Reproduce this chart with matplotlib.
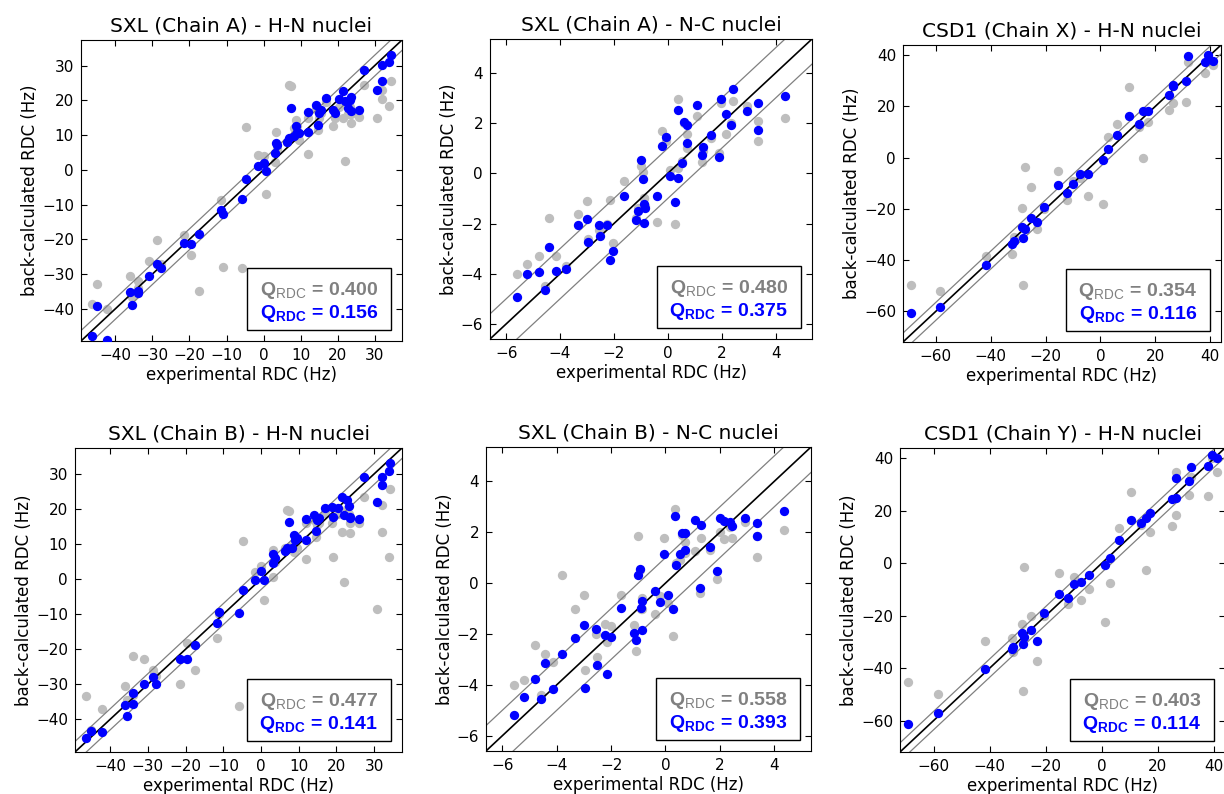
import matplotlib
matplotlib.use("Agg")
import matplotlib.pyplot as plt
from matplotlib.patches import Rectangle
from matplotlib.ticker import MultipleLocator

plt.rcParams.update({
    "font.family": "DejaVu Sans",
    "mathtext.fontset": "custom",
    "mathtext.rm": "Liberation Sans",
    "mathtext.bf": "Liberation Sans:bold",
    "mathtext.it": "Liberation Sans:italic",
})

# ---- data ----
# SXL H-N (same experimental values for chain A and chain B)
sxl_hn_exp = [-46.4, -45.0, -42.2, -36.1, -35.4, -34.0, -33.8, -31.0, -28.7, -27.7,
              -21.4, -19.7, -17.4, -11.6, -11.0, -5.7, -4.8, -1.5, 0.0, 0.7,
              3.2, 3.3, 3.6, 6.4, 7.0, 7.5, 8.3, 8.7, 9.0, 9.6,
              11.9, 12.0, 14.2, 14.6, 14.9, 15.4, 16.9, 18.8, 19.2, 20.5,
              21.5, 22.0, 22.8, 23.3, 23.6, 23.6, 25.9, 27.2, 30.7, 32.0,
              32.1, 34.0, 34.3]
sxl_a_hn_before = [-38.5, -32.9, -40.2, -30.7, -36.5, -32.0, -34.0, -26.4, -20.2, -27.0,
                   -18.9, -24.4, -34.8, -8.8, -28.1, -28.4, 12.2, 4.2, 4.1, -6.9,
                   2.3, 11.0, 6.0, 8.0, 24.5, 24.2, 12.0, 14.4, 12.6, 8.6,
                   4.5, 15.0, 17.5, 11.5, 15.0, 16.5, 19.5, 12.6, 15.0, 18.0,
                   14.9, 2.6, 16.0, 18.0, 13.6, 16.0, 15.3, 24.5, 14.9, 20.5,
                   23.0, 18.4, 25.7]
sxl_a_hn_after = [-47.9, -39.2, -49.1, -35.3, -38.9, -34.8, -35.6, -30.6, -27.1, -28.3,
                  -21.0, -21.3, -18.6, -11.7, -12.6, -8.5, -2.7, 1.2, 2.1, -0.4,
                  4.9, 7.8, 7.1, 7.9, 9.1, 17.8, 9.7, 12.5, 11.0, 10.5,
                  11.0, 16.8, 18.7, 12.9, 16.3, 17.3, 20.7, 17.3, 16.3, 20.4,
                  22.6, 19.7, 17.8, 20.2, 21.1, 17.0, 17.3, 28.9, 22.9, 30.3,
                  25.7, 31.0, 33.2]
sxl_b_hn_before = [-33.4, -43.0, -37.0, -30.6, -34.5, -33.0, -21.9, -22.7, -26.0, -27.5,
                   -29.8, -18.1, -25.8, -16.7, -10.0, -36.2, 11.0, 2.0, 3.8, -6.0,
                   0.5, 8.3, 5.0, 9.0, 19.7, 19.4, 9.5, 7.6, 10.0, 9.0,
                   5.7, 16.0, 17.0, 12.0, 15.5, 16.0, 19.0, 16.0, 6.2, 18.5,
                   13.5, -0.8, 20.0, 18.5, 13.3, 16.0, 16.0, 23.5, -8.6, 21.1,
                   13.5, 6.2, 25.6]
sxl_b_hn_after = [-45.2, -43.3, -43.6, -36.0, -39.1, -35.7, -32.4, -30.0, -27.9, -29.8,
                  -22.9, -22.9, -18.9, -12.5, -9.5, -9.6, -3.1, -0.3, 2.4, -0.3,
                  4.5, 7.1, 6.0, 8.0, 8.8, 16.2, 8.8, 12.6, 11.1, 11.8,
                  11.3, 17.1, 18.3, 13.7, 16.9, 17.5, 20.2, 20.5, 17.8, 20.2,
                  23.5, 18.3, 22.6, 20.9, 17.6, 17.5, 17.1, 29.0, 22.1, 29.0,
                  26.9, 30.9, 33.0]

# SXL N-C
sxl_nc_exp = [-5.58, -5.21, -4.80, -4.57, -4.42, -4.15, -3.79, -3.32, -3.01, -2.97,
              -2.54, -2.52, -2.24, -2.15, -2.02, -1.62, -1.17, -1.10, -1.00, -0.92,
              -0.90, -0.87, -0.85, -0.39, -0.20, -0.07, 0.08, 0.26, 0.36, 0.37,
              0.53, 0.60, 0.70, 0.71, 1.08, 1.28, 1.31, 1.62, 1.90, 1.99,
              2.15, 2.36, 2.43, 2.94, 3.36, 3.36, 4.36]
sxl_a_nc_before = [-4.02, -3.63, -3.31, -4.50, -1.77, -3.31, -3.70, -1.61, -1.12, -2.60,
                   -2.27, -2.30, -2.00, -1.05, -2.76, -0.31, -1.80, -1.40, 0.30, 0.05,
                   -1.00, -1.00, -1.30, -1.94, 1.69, 1.30, 0.12, -2.03, 2.97, 0.20,
                   0.50, 2.00, 1.58, 1.00, 2.27, 0.45, 0.90, 1.40, 0.81, 2.80,
                   1.55, 2.00, 2.87, 2.68, 2.07, 1.27, 2.22]
sxl_a_nc_after = [-4.93, -4.02, -3.93, -4.63, -2.93, -3.89, -3.80, -2.05, -1.81, -2.74,
                  -2.05, -2.50, -2.05, -3.47, -3.09, -0.90, -1.85, -1.51, 0.52, -0.24,
                  -1.98, -1.24, -1.37, -0.92, 1.08, 1.45, -0.11, -1.14, 2.54, -0.17,
                  0.41, 2.05, 1.91, 1.21, 2.74, 0.72, 1.05, 1.51, 0.65, 2.97,
                  2.38, 1.91, 3.37, 2.48, 2.80, 1.74, 3.07]
sxl_b_nc_before = [-4.02, -3.82, -2.43, -4.40, -2.80, -3.10, 0.30, -1.00, -0.48, -3.43,
                   -2.00, -2.90, -1.60, -2.30, -1.70, -0.47, -1.66, -2.66, 1.84, 0.50,
                   -1.00, -0.60, -1.00, -1.20, -0.50, 1.77, -0.80, -2.06, 2.90, 0.80,
                   0.90, 1.90, 1.60, 1.20, 1.27, -0.38, 1.76, 1.30, 0.17, 2.00,
                   1.72, 2.20, 1.76, 2.40, 1.85, 1.01, 2.08]
sxl_b_nc_after = [-5.20, -4.47, -3.76, -4.54, -3.16, -4.18, -2.80, -2.17, -1.66, -4.14,
                  -1.79, -3.20, -2.05, -3.59, -2.11, -0.96, -1.97, -2.25, 0.32, 0.55,
                  -0.96, -0.71, -1.83, -0.33, -0.76, 1.14, -0.47, -1.00, 2.62, 0.71,
                  1.14, 1.96, 1.96, 1.32, 2.50, -0.20, 2.29, 1.43, 0.46, 2.57,
                  2.46, 2.39, 2.26, 2.57, 2.37, 1.87, 2.82]

# CSD1 H-N
csd1_hn_exp = [-69.0, -58.4, -41.7, -32.1, -31.6, -28.6, -28.1, -27.6, -25.3, -23.2,
               -20.5, -15.3, -12.0, -9.9, -7.3, -4.4, 1.1, 2.9, 6.2, 10.5,
               14.0, 15.7, 17.3, 25.0, 26.4, 26.6, 31.1, 31.8, 38.0, 39.3, 41.2]
csd1_x_before = [-49.6, -52.0, -38.6, -37.6, -31.0, -19.7, -49.6, -3.7, -11.5, -27.8,
                 -20.0, -5.2, -16.7, -9.0, -8.0, -15.1, -18.0, 8.1, 13.1, 27.7,
                 12.0, 0.0, 14.0, 18.8, 21.4, 28.0, 21.8, 37.5, 32.9, 38.5, 36.2]
csd1_x_after = [-60.7, -58.2, -41.8, -33.7, -32.6, -26.9, -31.3, -27.8, -23.5, -25.2,
                -19.3, -10.8, -13.8, -10.2, -6.3, -6.3, -0.8, 3.3, 9.0, 16.3,
                13.1, 18.3, 18.3, 24.4, 27.9, 28.3, 29.9, 39.7, 37.5, 40.1, 37.9]
csd1_y_before = [-45.2, -49.7, -29.6, -28.4, -34.0, -23.3, -48.7, -1.4, -20.1, -37.3,
                 -20.0, -3.8, -15.6, -5.1, -14.0, -9.9, -22.3, -7.4, 13.6, 27.4,
                 14.5, -2.7, 12.0, 14.2, 18.3, 34.9, 26.0, 33.0, 25.7, 40.0, 34.9]
csd1_y_after = [-61.2, -57.3, -40.2, -32.6, -32.0, -26.5, -30.7, -28.0, -25.4, -29.6,
                -18.8, -11.6, -13.4, -7.8, -7.1, -4.6, -0.8, 2.2, 8.8, 16.4,
                15.5, 17.4, 19.1, 24.7, 24.8, 32.4, 31.4, 36.9, 37.1, 41.2, 40.3]

titles = ["SXL (Chain A) - H-N nuclei", "SXL (Chain A) - N-C nuclei", "CSD1 (Chain X) - H-N nuclei",
          "SXL (Chain B) - H-N nuclei", "SXL (Chain B) - N-C nuclei", "CSD1 (Chain Y) - H-N nuclei"]
q_before = ["0.400", "0.480", "0.354", "0.477", "0.558", "0.403"]
q_after = ["0.156", "0.375", "0.116", "0.141", "0.393", "0.114"]

# ---- layout ----
W, H = 1224, 794
# axes rectangles in pixels: left, top, right, bottom
axes_px = [(81, 40, 402, 341), (490, 39, 812, 339), (903, 45, 1221, 342),
           (75, 448, 402, 752), (486, 447, 811, 751), (900, 448, 1225, 752)]

panels = [
    (sxl_hn_exp, sxl_a_hn_before, sxl_a_hn_after, (-49.3, 37.4), 10, 3.0),
    (sxl_nc_exp, sxl_a_nc_before, sxl_a_nc_after, (-6.6, 5.35), 2, 1.0),
    (csd1_hn_exp, csd1_x_before, csd1_x_after, (-72.0, 44.0), 20, 3.5),
    (sxl_hn_exp, sxl_b_hn_before, sxl_b_hn_after, (-49.3, 37.4), 10, 3.0),
    (sxl_nc_exp, sxl_b_nc_before, sxl_b_nc_after, (-6.6, 5.35), 2, 1.0),
    (csd1_hn_exp, csd1_y_before, csd1_y_after, (-72.0, 44.0), 20, 3.5),
]

fig = plt.figure(figsize=(W / 100, H / 100), dpi=100)

for i, (exp, before, after, lims, step, d) in enumerate(panels):
    l, t, r, b = axes_px[i]
    aw, ah = r - l, b - t
    ax = fig.add_axes([l / W, 1 - b / H, aw / W, ah / H])

    ax.scatter(exp, before, s=45, c="#bebebe", linewidths=0, zorder=1)
    lo, hi = lims
    ax.plot([lo, hi], [lo, hi], color="black", lw=1.2, zorder=2)
    ax.plot([lo, hi], [lo + d, hi + d], color="gray", lw=0.9, zorder=2)
    ax.plot([lo, hi], [lo - d, hi - d], color="gray", lw=0.9, zorder=2)
    ax.scatter(exp, after, s=45, c="blue", linewidths=0, zorder=3)

    ax.set_xlim(lims)
    ax.set_ylim(lims)
    ax.xaxis.set_major_locator(MultipleLocator(step))
    ax.yaxis.set_major_locator(MultipleLocator(step))
    ax.tick_params(direction="in", top=True, right=True, labelsize=11, length=4, pad=5)

    ax.set_title(titles[i], fontsize=14.5, pad=6)
    ax.set_xlabel("experimental RDC (Hz)", fontsize=12, labelpad=2)
    ax.set_ylabel("back-calculated RDC (Hz)", fontsize=12, labelpad=2)

    # Q box in the lower right corner
    bw, bh, gap = 144, 62, 11
    ax.add_patch(Rectangle((1 - (gap + bw) / aw, gap / ah), bw / aw, bh / ah,
                           transform=ax.transAxes, facecolor="white",
                           edgecolor="black", lw=1, zorder=5))
    cx = 1 - (gap + bw / 2) / aw
    ax.text(cx, (gap + 35) / ah, r"$\mathbf{Q}_{\mathrm{RDC}}\mathbf{\,=\,%s}$" % q_before[i],
            transform=ax.transAxes, ha="center", va="baseline", fontsize=14,
            color="gray", zorder=6)
    ax.text(cx, (gap + 11.7) / ah, r"$\mathbf{Q_{RDC}\,=\,%s}$" % q_after[i],
            transform=ax.transAxes, ha="center", va="baseline", fontsize=14,
            color="blue", zorder=6)

fig.savefig("out.png", dpi=100)
